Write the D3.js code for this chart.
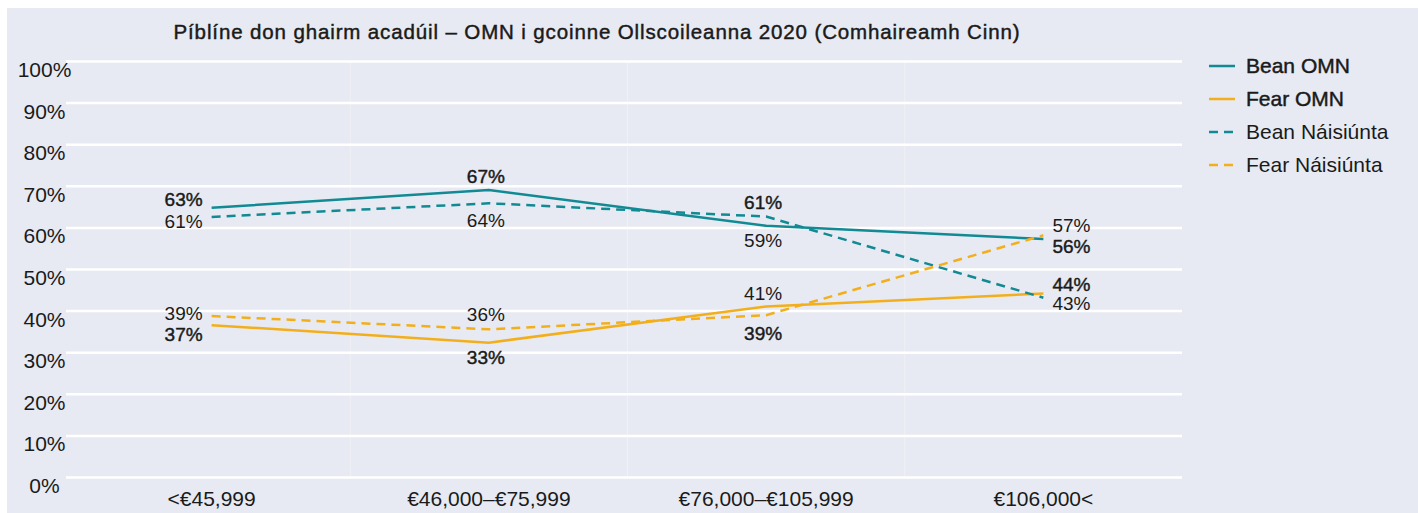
<!DOCTYPE html>
<html lang="ga">
<head>
  <meta charset="UTF-8">
  <title>Píblíne don ghairm acadúil</title>
  <script src="https://d3js.org/d3.v7.min.js"></script>
  <style>
    body { margin: 0; background: #fff; }
    svg { display: block; font-family: "Liberation Sans", Arial, sans-serif; }
    .tick line { stroke: #fff; stroke-width: 2.5; }
    .domain { display: none; }
  </style>
</head>
<body>
  <svg id="chart" width="1418" height="513"></svg>
  <script>
    // categories (salary bands)
    const categories = ["<€45,999", "€46,000–€75,999", "€76,000–€105,999", "€106,000<"];
    const yTicks = [0, 10, 20, 30, 40, 50, 60, 70, 80, 90, 100];

    // values as plotted (%)
    const beanOmn = [64.7, 69.0, 60.4, 57.2];
    const fearOmn = [36.5, 32.3, 41.0, 44.1];
    const beanNat = [62.5, 65.8, 62.6, 43.1];
    const fearNat = [38.7, 35.5, 38.9, 58.1];

    // data label texts
    const beanOmnLabels = ["63%", "67%", "61%", "56%"];
    const fearOmnLabels = ["37%", "33%", "39%", "44%"];
    const beanNatLabels = ["61%", "64%", "59%", "43%"];
    const fearNatLabels = ["39%", "36%", "41%", "57%"];

    const seriesNames = ["Bean OMN", "Fear OMN", "Bean Náisiúnta", "Fear Náisiúnta"];

    const teal = "#118a94", amber = "#f3af1b";

    // label vertical offsets (px) from each point
    const labelDy = {
      "Bean OMN":       [-8, -14, -23, 7],
      "Bean Náisiúnta": [4, 17, 24, 6],
      "Fear OMN":       [9, 15, 27, -9],
      "Fear Náisiúnta": [-3, -15, -22, -10]
    };

    const series = [
      {name: seriesNames[0], values: beanOmn, labels: beanOmnLabels, color: teal,  dashed: false},
      {name: seriesNames[1], values: fearOmn, labels: fearOmnLabels, color: amber, dashed: false},
      {name: seriesNames[2], values: beanNat, labels: beanNatLabels, color: teal,  dashed: true},
      {name: seriesNames[3], values: fearNat, labels: fearNatLabels, color: amber, dashed: true}
    ];

    const svg = d3.select("#chart");

    // panel background
    svg.append("rect")
       .attr("x", 7).attr("y", 8)
       .attr("width", 1411).attr("height", 505)
       .attr("fill", "#e7eaf2");

    const x = d3.scaleBand().domain(categories).range([73, 1182]);
    const y = d3.scaleLinear().domain([0, 100]).range([477, 61]);
    const cx = d => x(d) + x.bandwidth() / 2;

    // faint vertical separators between bands
    svg.selectAll(".vsep")
       .data(categories.slice(1))
       .enter()
       .append("line")
       .attr("x1", d => x(d)).attr("x2", d => x(d))
       .attr("y1", y(100)).attr("y2", y(0))
       .attr("stroke", "#fff").attr("stroke-opacity", 0.35).attr("stroke-width", 1);

    // y axis with gridlines
    const yAxis = svg.append("g")
       .attr("transform", "translate(66,0)")
       .call(d3.axisLeft(y).tickValues(yTicks).tickFormat(d => d + "%").tickSize(-1116).tickPadding(0));
    yAxis.selectAll("text")
       .attr("x", -21.5)
       .attr("y", 15.5)
       .attr("dy", 0)
       .attr("text-anchor", "middle")
       .attr("fill", "#1a1a1a")
       .style("font-size", "21px");

    // x axis labels
    const xAxis = svg.append("g")
       .attr("transform", "translate(0,477)")
       .call(d3.axisBottom(x).tickSize(0).tickPadding(0));
    xAxis.selectAll("text")
       .attr("y", 29)
       .attr("dy", 0)
       .attr("fill", "#1a1a1a")
       .style("font-size", "21px");
    svg.selectAll("g").attr("font-family", null).attr("font-size", null);

    // title
    svg.append("text")
       .attr("x", 596.5).attr("y", 38.5)
       .attr("text-anchor", "middle")
       .attr("fill", "#1a1a1a")
       .attr("stroke", "#1a1a1a").attr("stroke-width", 0.45)
       .attr("textLength", 846)
       .attr("lengthAdjust", "spacing")
       .style("font-size", "20.5px")
       .text("Píblíne don ghairm acadúil – OMN i gcoinne Ollscoileanna 2020 (Comhaireamh Cinn)");

    // lines
    const line = d3.line()
       .x((d, i) => cx(categories[i]))
       .y(d => y(d));

    series.forEach(s => {
      svg.append("path")
         .datum(s.values)
         .attr("fill", "none")
         .attr("stroke", s.color)
         .attr("stroke-width", 2.5)
         .attr("stroke-dasharray", s.dashed ? "9,6" : null)
         .attr("d", line);
    });

    // data labels
    series.forEach(s => {
      svg.selectAll(null)
         .data(s.values)
         .enter()
         .append("text")
         .attr("x", (d, i) => {
           const px = cx(categories[i]);
           if (i === 0) return px - 9;
           if (i === categories.length - 1) return px + 9;
           return px - 3;
         })
         .attr("y", (d, i) => y(d) + labelDy[s.name][i])
         .attr("dy", "0.35em")
         .attr("text-anchor", (d, i) => i === 0 ? "end" : (i === categories.length - 1 ? "start" : "middle"))
         .attr("fill", "#1a1a1a")
         .attr("stroke", s.dashed ? null : "#1a1a1a")
         .attr("stroke-width", s.dashed ? null : 0.45)
         .style("font-size", "19px")
         .text((d, i) => s.labels[i]);
    });

    // legend
    const legend = svg.append("g").attr("transform", "translate(1209,66)");
    const row = legend.selectAll("g")
       .data(series)
       .enter()
       .append("g")
       .attr("transform", (d, i) => `translate(0,${i * 33})`);
    row.append("line")
       .attr("x1", 0).attr("x2", 26)
       .attr("stroke", d => d.color)
       .attr("stroke-width", 2.5)
       .attr("stroke-dasharray", d => d.dashed ? "9,6" : null);
    row.append("text")
       .attr("x", 37)
       .attr("dy", "0.35em")
       .attr("fill", "#1a1a1a")
       .attr("stroke", d => d.dashed ? null : "#1a1a1a")
       .attr("stroke-width", d => d.dashed ? null : 0.45)
       .style("font-size", "21px")
       .text(d => d.name);
  </script>
</body>
</html>
